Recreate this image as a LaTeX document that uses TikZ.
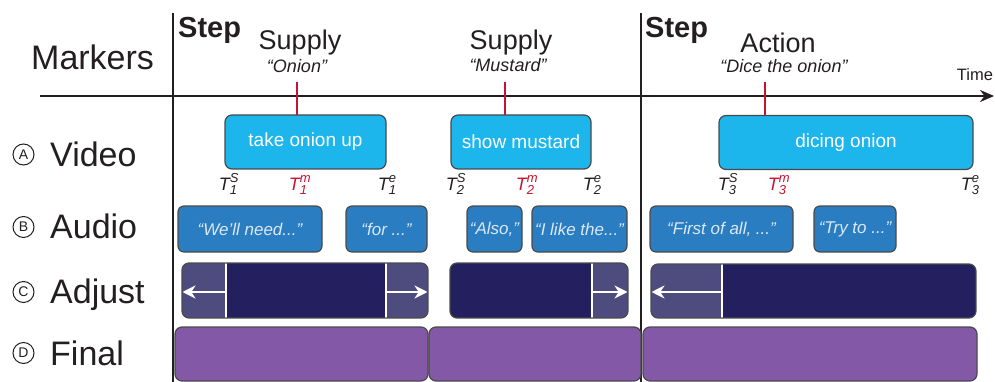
\documentclass[tikz,border=0pt]{standalone}
\usepackage{fontspec}
\setmainfont{Liberation Sans}
\usepackage{xcolor}
\usetikzlibrary{arrows.meta,positioning,calc}
\definecolor{inkgray}{HTML}{231F20}
\definecolor{boxborder}{HTML}{4A4A4A}
\definecolor{videoblue}{HTML}{1CB5EC}
\definecolor{audioblue}{HTML}{2A7DC1}
\definecolor{audiotext}{HTML}{DCE8F4}
\definecolor{adjdark}{HTML}{241F5F}
\definecolor{adjlight}{HTML}{4E4B7E}
\definecolor{finalpurple}{HTML}{8358A6}
\definecolor{markred}{HTML}{C4142F}
\newcommand{\scriptpart}[1]{{\fontsize{13}{13}\selectfont #1}}
\newcommand{\tmark}[2]{T\rlap{\raisebox{7.5pt}{\scriptpart{#2}}}\raisebox{-4.5pt}{\scriptpart{#1}}}
\tikzset{
  videobox/.style={draw=boxborder,fill=videoblue,rounded corners=7pt,line width=1.2pt,
    text=white,font=\fontsize{19}{19}\selectfont,inner sep=0pt,outer sep=0pt,minimum height=54},
  audiobox/.style={draw=boxborder,fill=audioblue,rounded corners=6pt,line width=1.2pt,
    text=audiotext,font=\itshape\fontsize{17}{17}\selectfont,inner sep=0pt,outer sep=0pt,minimum height=46},
  finalbox/.style={draw=boxborder,fill=finalpurple,rounded corners=7pt,line width=1.2pt,
    inner sep=0pt,outer sep=0pt,minimum height=54},
  adjustframe/.style={draw=boxborder,rounded corners=7pt,line width=1.2pt},
  rowlabel/.style={anchor=base west,text=inkgray,font=\fontsize{34}{34}\selectfont,inner sep=0pt},
  rowletter/.style={circle,draw=inkgray,line width=1pt,minimum size=21,inner sep=0pt,
    text=inkgray,font=\fontsize{14}{14}\selectfont},
  steplabel/.style={anchor=base west,text=inkgray,font=\bfseries\fontsize{29}{29}\selectfont,inner sep=0pt},
  kindlabel/.style={anchor=base,text=inkgray,font=\fontsize{27}{27}\selectfont,inner sep=0pt},
  quotelabel/.style={anchor=base,text=inkgray,font=\itshape\fontsize{18}{18}\selectfont,inner sep=0pt},
  timemark/.style={anchor=base,text=inkgray,font=\itshape\fontsize{18}{18}\selectfont,inner sep=0pt},
  timeaxis/.style={-{Stealth[length=14pt,width=12pt]},line width=1.8pt,draw=inkgray},
  divider/.style={line width=1.2pt,draw=inkgray},
  markertick/.style={line width=2.6pt,draw=markred},
  cutline/.style={line width=2pt,draw=white},
  shiftarrow/.style={-{Stealth[length=13pt,width=13pt]},line width=2.2pt,draw=white}
}
\begin{document}
\begin{tikzpicture}[x=1pt,y=-1pt]
  \useasboundingbox (0,0) rectangle (995,382);

  % time axis and step dividers
  \coordinate (axisstart) at (40,96);
  \coordinate (axisend) at (994,96);
  \draw[timeaxis] (axisstart) -- (axisend);
  \node[anchor=base,text=inkgray,font=\fontsize{16.5}{16.5}\selectfont,inner sep=0pt] (timelabel) at (975,81) {Time};
  \coordinate (divonetop) at (173,13);
  \coordinate (divonebot) at (173,382);
  \coordinate (divtwotop) at (641,13);
  \coordinate (divtwobot) at (641,382);
  \draw[divider] (divonetop) -- (divonebot);
  \draw[divider] (divtwotop) -- (divtwobot);

  % row labels
  \node[rowlabel] (markers) at (31,70) {Markers};
  \node[rowletter] (lettera) at (23.5,154.5) {A};
  \node[rowletter] (letterb) at (23.5,227) {B};
  \node[rowletter] (letterc) at (23.5,292) {C};
  \node[rowletter] (letterd) at (23.5,353) {D};
  \node[rowlabel] (videorow) at (50,167) {Video};
  \node[rowlabel] (audiorow) at (50,238) {Audio};
  \node[rowlabel] (adjustrow) at (50,303) {Adjust};
  \node[rowlabel] (finalrow) at (50,365) {Final};

  % markers
  \node[steplabel] (stepone) at (178,38) {Step};
  \node[steplabel] (steptwo) at (645,38) {Step};
  \node[kindlabel] (supplyone) at (300,50) {Supply};
  \node[quotelabel] (onion) at (297,73) {“Onion”};
  \node[kindlabel] (supplytwo) at (511,50) {Supply};
  \node[quotelabel] (mustard) at (508,72) {“Mustard”};
  \node[kindlabel] (action) at (778,53) {Action};
  \node[quotelabel] (dice) at (784,73) {“Dice the onion”};

  % video segments
  \node[videobox,minimum width=161] (takeonion) at (305.5,142) {take onion up};
  \node[videobox,minimum width=140] (showmustard) at (521,142) {show mustard};
  \node[videobox,minimum width=254] (dicingonion) at (846,142.5) {dicing onion};

  \coordinate (tickone) at (297,82);
  \coordinate (ticktwo) at (505,82);
  \coordinate (tickthree) at (765,82);
  \draw[markertick] (tickone) -- (tickone |- takeonion.north);
  \draw[markertick] (ticktwo) -- (ticktwo |- showmustard.north);
  \draw[markertick] (tickthree) -- (tickthree |- dicingonion.north);

  % segment times
  \node[timemark] (tones) at (228,190) {\tmark{1}{S}};
  \node[timemark,text=markred] (tonem) at (298,190) {\tmark{1}{m}};
  \node[timemark] (tonee) at (387,190) {\tmark{1}{e}};
  \node[timemark] (ttwos) at (455,190) {\tmark{2}{S}};
  \node[timemark,text=markred] (ttwom) at (525,190) {\tmark{2}{m}};
  \node[timemark] (ttwoe) at (592,190) {\tmark{2}{e}};
  \node[timemark] (tthrees) at (727,190) {\tmark{3}{S}};
  \node[timemark,text=markred] (tthreem) at (777,190) {\tmark{3}{m}};
  \node[timemark] (tthreee) at (970,190) {\tmark{3}{e}};

  % audio segments
  \node[audiobox,minimum width=144] (weneed) at (250,229) {“We’ll need...”};
  \node[audiobox,minimum width=81] (forpart) at (386.5,229) {“for ...”};
  \node[audiobox,minimum width=55] (also) at (494.5,229) {“Also,”};
  \node[audiobox,minimum width=95] (ilike) at (579.5,229) {“I like the...”};
  \node[audiobox,minimum width=143] (firstofall) at (721.5,229) {“First of all, ...”};
  \node[audiobox,minimum width=82] (tryto) at (855,229) {“Try to ...”};

  % adjusted segments
  \begin{scope}
    \clip[rounded corners=7pt] (182,263) rectangle (428,318);
    \fill[adjdark] (182,263) rectangle (428,318);
    \fill[adjlight] (182,263) rectangle (226,318);
    \fill[adjlight] (386,263) rectangle (428,318);
  \end{scope}
  \begin{scope}
    \clip[rounded corners=7pt] (450,263) rectangle (628,318);
    \fill[adjdark] (450,263) rectangle (628,318);
    \fill[adjlight] (592,263) rectangle (628,318);
  \end{scope}
  \begin{scope}
    \clip[rounded corners=7pt] (651,264) rectangle (976,318);
    \fill[adjdark] (651,264) rectangle (976,318);
    \fill[adjlight] (651,264) rectangle (722,318);
  \end{scope}
  \draw[cutline] (226,263) -- (226,318);
  \draw[cutline] (386,263) -- (386,318);
  \draw[cutline] (592,263) -- (592,318);
  \draw[cutline] (722,264) -- (722,318);
  \coordinate (shiftonel) at (226,292);
  \coordinate (shiftoneend) at (182.5,292);
  \coordinate (shiftoner) at (386,292);
  \coordinate (shiftonerend) at (427.5,292);
  \coordinate (shifttwo) at (592,292);
  \coordinate (shifttwoend) at (627.5,292);
  \coordinate (shiftthree) at (722,292);
  \coordinate (shiftthreeend) at (651.5,292);
  \draw[shiftarrow] (shiftonel) -- (shiftoneend);
  \draw[shiftarrow] (shiftoner) -- (shiftonerend);
  \draw[shiftarrow] (shifttwo) -- (shifttwoend);
  \draw[shiftarrow] (shiftthree) -- (shiftthreeend);
  \draw[adjustframe] (182,263) rectangle (428,318);
  \draw[adjustframe] (450,263) rectangle (628,318);
  \draw[adjustframe] (651,264) rectangle (976,318);

  % final segments
  \node[finalbox,minimum width=253] (finalone) at (301.5,354) {};
  \node[finalbox,minimum width=212] (finaltwo) at (535,354) {};
  \node[finalbox,minimum width=334] (finalthree) at (810,354) {};
\end{tikzpicture}
\end{document}
